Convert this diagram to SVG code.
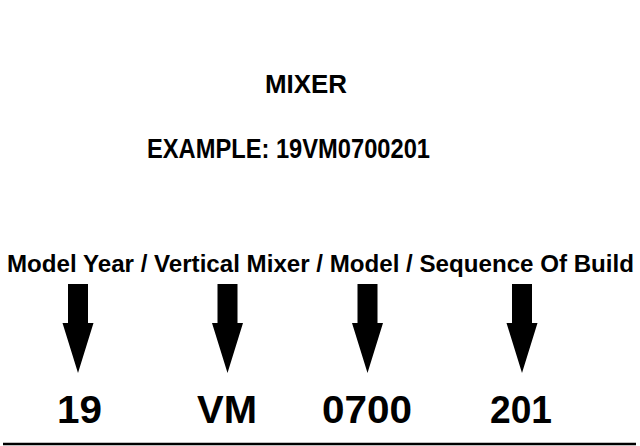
<svg xmlns="http://www.w3.org/2000/svg" width="640" height="446" viewBox="0 0 640 446">
<style>
text{font-family:"Liberation Sans",Arial,Helvetica,sans-serif;font-weight:bold;fill:#000}
.arrow{fill:#000;stroke:none}
</style>
<defs>
<polygon id="arr" class="arrow" points="-10,0 10,0 10,39 15.5,39 0,89 -15.5,39 -10,39"/>
</defs>
<rect width="640" height="446" fill="#fff"/>
<g id="title"><text x="265" y="93" font-size="26" textLength="82" lengthAdjust="spacingAndGlyphs">MIXER</text></g>
<g id="example"><text x="147" y="158" font-size="27" textLength="283" lengthAdjust="spacingAndGlyphs">EXAMPLE: 19VM0700201</text></g>
<g id="legend"><text x="7" y="272" font-size="23.5" textLength="627" lengthAdjust="spacingAndGlyphs">Model Year / Vertical Mixer / Model / Sequence Of Build</text></g>
<g id="connectors">
<use href="#arr" x="78" y="284"/>
<use href="#arr" x="227.5" y="284"/>
<use href="#arr" x="367.5" y="284"/>
<use href="#arr" x="522" y="284"/>
</g>
<g id="n-year"><text x="57" y="423" font-size="39" textLength="45" lengthAdjust="spacingAndGlyphs">19</text></g>
<g id="n-type"><text x="197" y="423" font-size="39" textLength="60" lengthAdjust="spacingAndGlyphs">VM</text></g>
<g id="n-model"><text x="322" y="423" font-size="39" textLength="90" lengthAdjust="spacingAndGlyphs">0700</text></g>
<g id="n-seq"><text x="490" y="423" font-size="39" textLength="62" lengthAdjust="spacingAndGlyphs">201</text></g>
<line x1="3" y1="444" x2="636" y2="444" stroke="#000" stroke-width="2.6"/>
</svg>
